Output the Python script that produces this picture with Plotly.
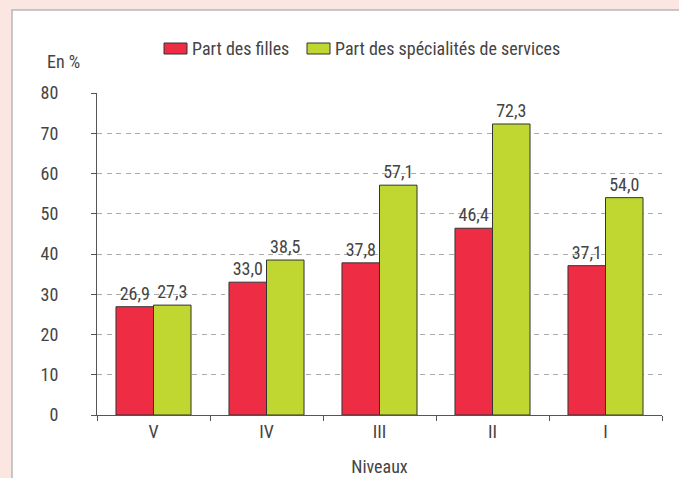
import plotly.graph_objects as go

categories = ["V", "IV", "III", "II", "I"]
filles = [26.9, 33.0, 37.8, 46.4, 37.1]
services = [27.3, 38.5, 57.1, 72.3, 54.0]
series_names = ["Part des filles", "Part des spécialités de services"]
series_colors = ["#ee2d44", "#bfd730"]
y_ticks = [0, 10, 20, 30, 40, 50, 60, 70, 80]

FONT = "Liberation Sans Narrow, Roboto Condensed, Arial Narrow, Roboto, sans-serif"
TXT = "#444444"
FS = 18

def fr(v):
    return f"{v:.1f}".replace(".", ",")

fig = go.Figure()
for name, vals, col in zip(series_names, [filles, services], series_colors):
    fig.add_trace(go.Bar(
        x=categories, y=vals, name=name, showlegend=False,
        marker=dict(color=col, line=dict(color="#333333", width=1)),
        text=[fr(v) for v in vals], textposition="outside",
        textfont=dict(family=FONT, size=FS, color=TXT), cliponaxis=False,
    ))

L, R, T, B = 97, 17, 93, 63
W, H = 679, 478
pw, ph = W - L - R, H - T - B

def px_x(p):
    return (p - L) / pw

def px_y(p):
    return (H - B - p) / ph

# white panel
fig.add_shape(type="rect", xref="paper", yref="paper", layer="below",
              x0=px_x(12), x1=px_x(720), y0=px_y(520), y1=px_y(10),
              fillcolor="white", line=dict(color="#b8b8b8", width=1.5))

# legend (manual)
legend_x = [164, 307]
for lx, name, col in zip(legend_x, series_names, series_colors):
    fig.add_shape(type="rect", xref="paper", yref="paper",
                  x0=px_x(lx), x1=px_x(lx + 23), y0=px_y(54), y1=px_y(43),
                  fillcolor=col, line=dict(color="#333333", width=1))
    fig.add_annotation(text=name, xref="paper", yref="paper",
                       x=px_x(lx + 26), y=px_y(49), xanchor="left", yanchor="middle",
                       showarrow=False, font=dict(family=FONT, size=FS, color=TXT))

fig.add_annotation(text="En %", xref="paper", yref="paper",
                   x=px_x(45), y=px_y(61), xanchor="left", yanchor="middle",
                   showarrow=False, font=dict(family=FONT, size=FS, color=TXT))

fig.update_layout(
    width=W, height=H,
    margin=dict(l=L, r=R, t=T, b=B, autoexpand=False),
    paper_bgcolor="#fbe6e1",
    plot_bgcolor="white",
    barmode="group", bargap=0.336, bargroupgap=0,
    font=dict(family=FONT, size=FS, color=TXT),
    showlegend=False,
    hovermode=False,
)
fig.update_xaxes(
    type="category", showgrid=False, showline=True, linecolor="#555555", linewidth=1,
    ticks="outside", tickson="boundaries", ticklen=5, tickcolor="#555555",
    tickfont=dict(family=FONT, size=FS, color=TXT), automargin=False,
    title=dict(text="Niveaux", font=dict(family=FONT, size=FS, color=TXT), standoff=19),
)
fig.update_yaxes(
    range=[0, 80], tickvals=y_ticks, showline=True, linecolor="#555555", linewidth=1,
    ticks="outside", ticklen=5, tickcolor="#555555",
    showgrid=True, gridcolor="#aaaaaa", gridwidth=1, griddash="5px,4.5px",
    zeroline=False, ticklabelstandoff=29, automargin=False,
    tickfont=dict(family=FONT, size=FS, color=TXT),
)

fig.write_html(
    "out.html",
    config={"displayModeBar": False, "staticPlot": True},
    post_script="document.body.style.margin='0';document.body.style.overflow='hidden';",
)
